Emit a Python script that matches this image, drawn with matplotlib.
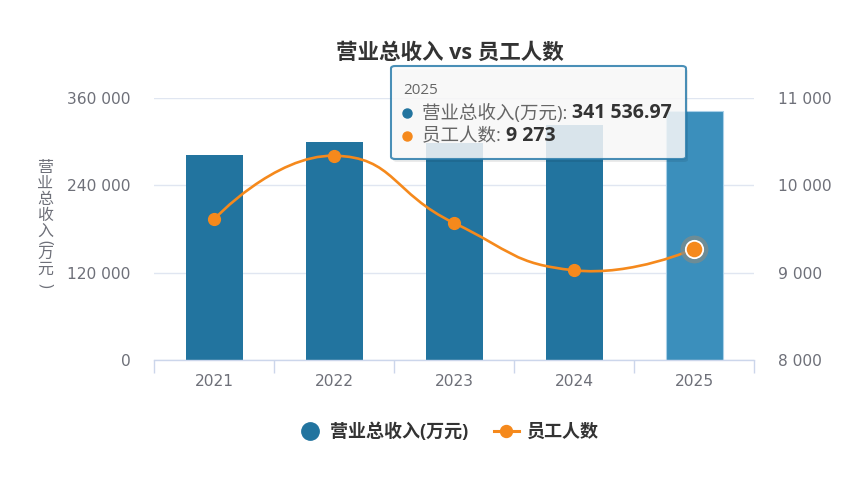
import numpy as np
import matplotlib
matplotlib.use('Agg')
import matplotlib.pyplot as plt
from matplotlib.path import Path
from matplotlib.patches import PathPatch, FancyBboxPatch
from matplotlib.lines import Line2D
from matplotlib.ticker import FuncFormatter

plt.rcParams['font.family'] = ['Open Sans', 'Noto Sans CJK SC', 'DejaVu Sans']
TICKFONT = ['DejaVu Sans', 'Noto Sans CJK SC']

years = ['2021', '2022', '2023', '2024', '2025']
revenue = [281000, 299900, 297600, 322900, 341536.97]   # 万元
staff = [9611, 10339, 9569, 9027, 9273]

rev_ticks = [0, 120000, 240000, 360000]
staff_ticks = [8000, 9000, 10000, 11000]

title = '营业总收入 vs 员工人数'
rev_name = '营业总收入(万元)'
staff_name = '员工人数'

BLUE = '#22749f'
BLUE_HI = '#3b8fbc'
ORANGE = '#f5891c'
LABEL = '#6e7079'
GRID = '#e0e6f1'

W, H = 843, 482
fig = plt.figure(figsize=(W / 100, H / 100), dpi=100)
ax = fig.add_axes([154 / W, 1 - 360 / H, 600 / W, 262 / H])
ax2 = ax.twinx()

def fmt(v, pos=None):
    return f'{int(round(v)):,}'.replace(',', ' ')

x = np.arange(len(years))
colors = [BLUE] * (len(years) - 1) + [BLUE_HI]
bars = ax.bar(x, revenue, width=0.475, color=colors, zorder=2)
bars[-1].set_edgecolor('#a9d0e8')
bars[-1].set_linewidth(0.8)

ax.set_xlim(-0.5, len(years) - 0.5)
ax.set_ylim(rev_ticks[0], rev_ticks[-1])
ax.set_yticks(rev_ticks)
ax.yaxis.set_major_formatter(FuncFormatter(fmt))
ax.set_xticks(x)
ax.set_xticklabels(years)
ax.set_xticks(np.arange(-0.5, len(years)), minor=True)
ax.tick_params(axis='x', which='major', length=0, pad=10, labelcolor=LABEL)
ax.tick_params(axis='x', which='minor', length=9, width=1, color='#ccd6eb', direction='out')
ax.tick_params(axis='y', length=0, pad=17, labelcolor=LABEL)
ax.grid(axis='y', color=GRID, linewidth=1, zorder=0)
ax.set_axisbelow(True)
for s in ['left', 'right', 'top']:
    ax.spines[s].set_visible(False)
ax.spines['bottom'].set_color('#ccd6eb')
ax.spines['bottom'].set_linewidth(1)
ax.spines['bottom'].set_zorder(3)

ax2.set_ylim(staff_ticks[0], staff_ticks[-1])
ax2.set_yticks(staff_ticks)
ax2.yaxis.set_major_formatter(FuncFormatter(fmt))
ax2.tick_params(axis='y', length=0, pad=17, labelcolor=LABEL)
for s in ax2.spines.values():
    s.set_visible(False)

for lab in ax.get_xticklabels() + ax.get_yticklabels() + ax2.get_yticklabels():
    lab.set_fontfamily(TICKFONT)
    lab.set_fontsize(11.2)

# smooth line (echarts-like bezier through the points, in pixel space)
pw, ph = 600.0, 262.0
xl = ax.get_xlim()
yl = ax2.get_ylim()
pts = np.array([[(xi - xl[0]) / (xl[1] - xl[0]) * pw, (yi - yl[0]) / (yl[1] - yl[0]) * ph]
                for xi, yi in zip(x, staff)])
sm = 0.5
n = len(pts)
cp0 = pts.copy()
cp1 = pts.copy()
for i in range(1, n - 1):
    prev, cur, nxt = pts[i - 1], pts[i], pts[i + 1]
    v = nxt - prev
    d0 = np.hypot(*(cur - prev))
    d1 = np.hypot(*(nxt - cur))
    r = d1 / (d0 + d1)
    cp0[i] = cur - v * sm * (1 - r)
    cp1[i] = cur + v * sm * r
verts = [pts[0]]
codes = [Path.MOVETO]
for i in range(n - 1):
    verts += [cp1[i], cp0[i + 1], pts[i + 1]]
    codes += [Path.CURVE4] * 3
verts = np.array(verts) / [pw, ph]
ax2.add_patch(PathPatch(Path(verts, codes), facecolor='none', edgecolor=ORANGE,
                        linewidth=1.9, transform=ax2.transAxes, zorder=4))
ax2.plot(x[:-1], staff[:-1], 'o', color=ORANGE, markersize=8.5, zorder=5)
ax2.plot(x[-1], staff[-1], 'o', color='#7f8c8a', alpha=0.75, markersize=20, zorder=5,
         markeredgewidth=0)
ax2.plot(x[-1], staff[-1], 'o', color=ORANGE, markersize=12.5, markeredgecolor='white',
         markeredgewidth=1.3, zorder=6)

# title
fig.text(450 / W, 1 - 53 / H, title, ha='center', va='center', fontsize=15.5,
         fontweight='bold', color='#333333')

# vertical y-axis name: upright characters, brackets turned
fig.text(45 / W, 1 - 160 / H, '营\n业\n总\n收\n入', ha='center', va='top', fontsize=11.5,
         color=LABEL, linespacing=1.0)
fig.text(45 / W, 1 - 242 / H, '(', ha='center', va='center', fontsize=11.5,
         color=LABEL, rotation=-90)
fig.text(45 / W, 1 - 246 / H, '万\n元', ha='center', va='top', fontsize=11.5,
         color=LABEL, linespacing=1.0)
fig.text(45 / W, 1 - 285 / H, ')', ha='center', va='center', fontsize=11.5,
         color=LABEL, rotation=-90)

# legend
handles = [
    Line2D([], [], linestyle='none', marker='o', color=BLUE, markersize=12.5),
    Line2D([], [], color=ORANGE, linewidth=2.2, marker='o', markersize=8.6),
]
leg = fig.legend(handles, [rev_name, staff_name], loc='center', ncol=2,
                 bbox_to_anchor=(448 / W, 1 - 432 / H), frameon=False,
                 handlelength=1.39, handletextpad=0.44, columnspacing=1.39,
                 borderpad=0, prop={'size': 13, 'weight': 'bold'})
for t in leg.get_texts():
    t.set_color('#333333')

# tooltip
bx0, by0, bx1, by1 = 391, 66, 686, 159
shadow = FancyBboxPatch((bx0 / W + 2 / W, 1 - by1 / H - 3 / H), (bx1 - bx0) / W, (by1 - by0) / H,
                        boxstyle='round,pad=0,rounding_size=0.005', transform=fig.transFigure,
                        facecolor='#000000', alpha=0.08, edgecolor='none', zorder=9)
box = FancyBboxPatch((bx0 / W, 1 - by1 / H), (bx1 - bx0) / W, (by1 - by0) / H,
                     boxstyle='round,pad=0,rounding_size=0.005', transform=fig.transFigure,
                     facecolor='#fbfbfb', alpha=0.85, edgecolor='#2a7cab', linewidth=1.5,
                     zorder=10)
fig.add_artist(shadow)
fig.add_artist(box)
fig.text(403 / W, 1 - 91 / H, years[-1], ha='left', va='center', fontsize=11,
         color='#666666', zorder=11)

rend = fig.canvas.get_renderer()
rows = [(BLUE, rev_name, f'{revenue[-1]:,.2f}'.replace(',', ' '), 113),
        (ORANGE, staff_name, fmt(staff[-1]), 136)]
for col, name, val, yy in rows:
    fig.add_artist(Line2D([407 / W], [1 - yy / H], marker='o', color=col, markersize=6.5,
                          linestyle='none', transform=fig.transFigure, zorder=11))
    t = fig.text(422 / W, 1 - yy / H, name + ': ', ha='left', va='center', fontsize=13.3,
                 color='#666666', zorder=11)
    ext = t.get_window_extent(renderer=rend).transformed(fig.transFigure.inverted())
    fig.text(ext.x1, 1 - yy / H, val, ha='left', va='center', fontsize=14,
             fontweight='bold', color='#333333', zorder=11)

fig.savefig('out.png', dpi=100)
